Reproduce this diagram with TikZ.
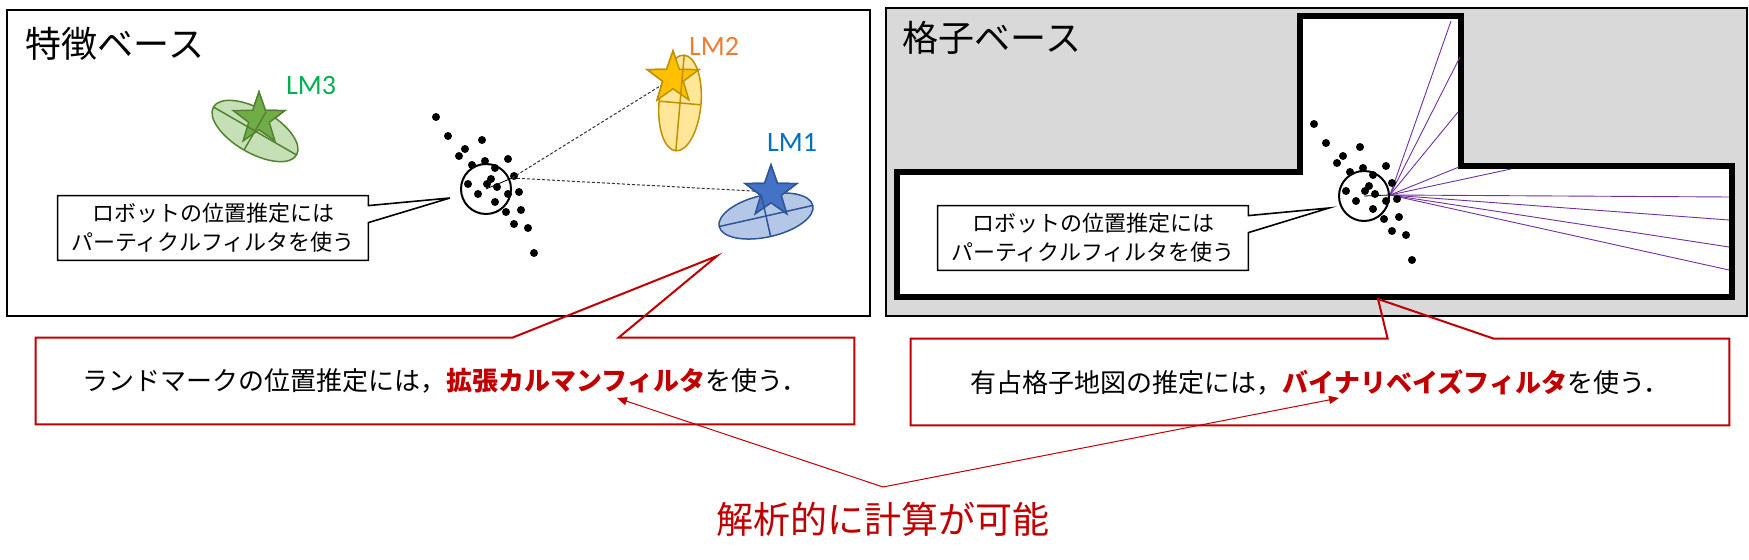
\documentclass[tikz,border=0pt]{standalone}
\usepackage{fontspec}
\setmainfont{Noto Sans CJK JP}
\newfontfamily\lmfont{Carlito}
\usepackage{tikz}
\usetikzlibrary{arrows.meta,calc,shapes.geometric}
\definecolor{panelgray}{HTML}{D9D9D9}
\definecolor{notered}{HTML}{C00000}
\definecolor{raypurple}{HTML}{7030A0}
\definecolor{line1}{HTML}{2F5597}
\definecolor{fill1}{HTML}{B4C7E7}
\definecolor{star1}{HTML}{4472C4}
\definecolor{label1}{HTML}{0070C0}
\definecolor{line2}{HTML}{BF9000}
\definecolor{fill2}{HTML}{FFE699}
\definecolor{star2}{HTML}{FFC000}
\definecolor{label2}{HTML}{ED7D31}
\definecolor{line3}{HTML}{548235}
\definecolor{fill3}{HTML}{C5E0B4}
\definecolor{star3}{HTML}{70AD47}
\definecolor{label3}{HTML}{00B050}
\newcommand{\redbold}[1]{{\bfseries\color{notered}#1}}

\begin{document}
\begin{tikzpicture}[x=0.5pt,y=-0.5pt,% one unit = one pixel of the picture, y downwards
					every node/.style={
						align=center,		% so that "\\" breaks the line
						inner sep=0pt
						},
					panel/.style={draw=black,line width=1pt},
					wall/.style={draw=black,line width=3pt,fill=white},
					paneltitle/.style={font=\fontsize{18}{20}\selectfont},
					lmlabel/.style={font=\lmfont\fontsize{14}{16}\selectfont},
					lmstar/.style={star,star points=5,star point ratio=2.5,minimum size=27pt,line width=0.75pt},
					errell/.style={line width=0.75pt},
					robot/.style={circle,draw=black,line width=1pt,minimum size=25pt},
					measure/.style={draw=black!80,line width=0.5pt,dash pattern=on 1.5pt off 1pt},
					ray/.style={draw=raypurple,line width=0.45pt},
					notebox/.style={fill=white,minimum width=155pt,minimum height=32pt,font=\fontsize{11}{14.5}\selectfont},
					redbox/.style={fill=white,minimum width=409pt,minimum height=43pt,font=\fontsize{13}{15}\selectfont},
					every edge/.style={draw=notered,line width=0.5pt,-{Triangle[length=5pt,width=4pt]}},
					particles/.pic={
						\foreach \p in {(-50,-72),(-38,-53),(-4,-49),(-21,-40),(-27,-33),(22,-30),(-1,-28),(-14,-24),
							(9,-21),(28,-13),(5,-10),(-18,-5),(1,-5),(11,-2),(33,3),(-8,5),(22,5),(9,13),
							(35,21),(20,23),(28,35),(42,39),(48,64)}
							\fill[black] \p circle [radius=4];
						}
					]
\useasboundingbox (0,0) rectangle (1749,560);

% feature based
\draw[panel] (7,10) rectangle (870,316);
\node[paneltitle] (ftitle) at (115,44) {特徴ベース};

\node[robot] (robotL) at (486,189) {};
\pic at (486,189) {particles};
\coordinate (headL) at (512,178);
\node[lmstar,fill=star1,draw=line1] (lm1star) at (771,192) {};
\node[lmstar,fill=star2,draw=line2] (lm2star) at (673,78) {};
\node[lmstar,fill=star3,draw=line3] (lm3star) at (259,119) {};
\draw[measure] (headL) -- (lm2star.center);
\draw[measure] (headL) -- (lm1star.center);
\draw (robotL.center) -- (headL);

\begin{scope}[shift={(766,216)},rotate=12.7]
\draw[errell,draw=line1,fill=fill1] (0,0) ellipse [x radius=48,y radius=21];
\end{scope}
\begin{scope}[shift={(680,103)},rotate=-5]
\draw[errell,draw=line2,fill=fill2] (0,0) ellipse [x radius=21,y radius=48];
\end{scope}
\begin{scope}[shift={(255,131)},rotate=-30]
\draw[errell,draw=line3,fill=fill3] (0,0) ellipse [x radius=48,y radius=22];
\end{scope}
\node[lmstar,fill=star1,draw=line1] at (771,192) {};
\node[lmstar,fill=star2,draw=line2] at (673,78) {};
\node[lmstar,fill=star3,draw=line3] at (259,119) {};
\begin{scope}[shift={(766,216)},rotate=12.7]
\draw[errell,draw=line1] (-48,0) -- (48,0) (0,-21) -- (0,21);
\end{scope}
\begin{scope}[shift={(680,103)},rotate=-5]
\draw[errell,draw=line2] (-21,0) -- (21,0) (0,-48) -- (0,48);
\end{scope}
\begin{scope}[shift={(255,131)},rotate=-30]
\draw[errell,draw=line3] (-48,0) -- (48,0) (0,-22) -- (0,22);
\end{scope}
\node[lmlabel,text=label1] (lm1) at (792,142) {LM1};
\node[lmlabel,text=label2] (lm2) at (714,46) {LM2};
\node[lmlabel,text=label3] (lm3) at (311,86) {LM3};

\node[notebox] (noteL) at (213,228) {ロボットの位置推定には\\パーティクルフィルタを使う};
\coordinate (noteLtip) at (450,198);
\draw[line width=0.8pt] (noteL.north west) -- (noteL.north east) -- ($(noteL.north east)+(0,10)$) -- (noteLtip)
	-- ($(noteL.north east)+(0,27)$) -- (noteL.south east) -- (noteL.south west) -- cycle;

% grid based
\draw[panel,fill=panelgray,line width=0.8pt] (886,8) rectangle (1747,316);
\node[paneltitle] (gtitle) at (992,38) {格子ベース};
\draw[wall] (897,172) -- (1300,172) -- (1300,16) -- (1461,16) -- (1461,166) -- (1732,166) -- (1732,297) -- (897,297) -- cycle;

\coordinate (lidar) at (1390,195);
\foreach \e in {(1451,21),(1460,57),(1458,112),(1459,167),(1511,169),(1729,197),(1729,220),(1729,247),(1729,270)}
	\draw[ray] (lidar) -- \e;

\node[robot] (robotR) at (1364,196) {};
\pic at (1364,196) {particles};
\draw (robotR.center) -- (lidar);

\node[notebox] (noteR) at (1093,238) {ロボットの位置推定には\\パーティクルフィルタを使う};
\coordinate (noteRtip) at (1329,208);
\draw[line width=0.8pt] (noteR.north west) -- (noteR.north east) -- ($(noteR.north east)+(0,10)$) -- (noteRtip)
	-- ($(noteR.north east)+(0,27)$) -- (noteR.south east) -- (noteR.south west) -- cycle;

% filters
\node[redbox] (kfbox) at (445,381) {ランドマークの位置推定には，\redbold{拡張カルマンフィルタ}を使う．};
\coordinate (kftip) at (717,256);
\draw[notered,line width=1pt] (kfbox.north west) -- ($(kfbox.north west)+(477,0)$) -- (kftip) -- ($(kfbox.north west)+(583,0)$)
	-- (kfbox.north east) -- (kfbox.south east) -- (kfbox.south west) -- cycle;

\node[redbox] (bfbox) at (1320,382) {有占格子地図の推定には，\redbold{バイナリベイズフィルタ}を使う．};
\coordinate (bftip) at (1378,299);
\draw[notered,line width=1pt] (bfbox.north west) -- ($(bfbox.north west)+(477,0)$) -- (bftip) -- ($(bfbox.north west)+(583,0)$)
	-- (bfbox.north east) -- (bfbox.south east) -- (bfbox.south west) -- cycle;

\node[text=notered,font=\fontsize{18.5}{20}\selectfont] (analytic) at (883,519) {解析的に計算が可能};
\coordinate (apex) at (883,487);
\coordinate (kfpt) at (617,398);
\coordinate (bfpt) at (1339,398);
\path
(apex) edge (kfpt)
(apex) edge (bfpt)
;
\end{tikzpicture}
\end{document}
